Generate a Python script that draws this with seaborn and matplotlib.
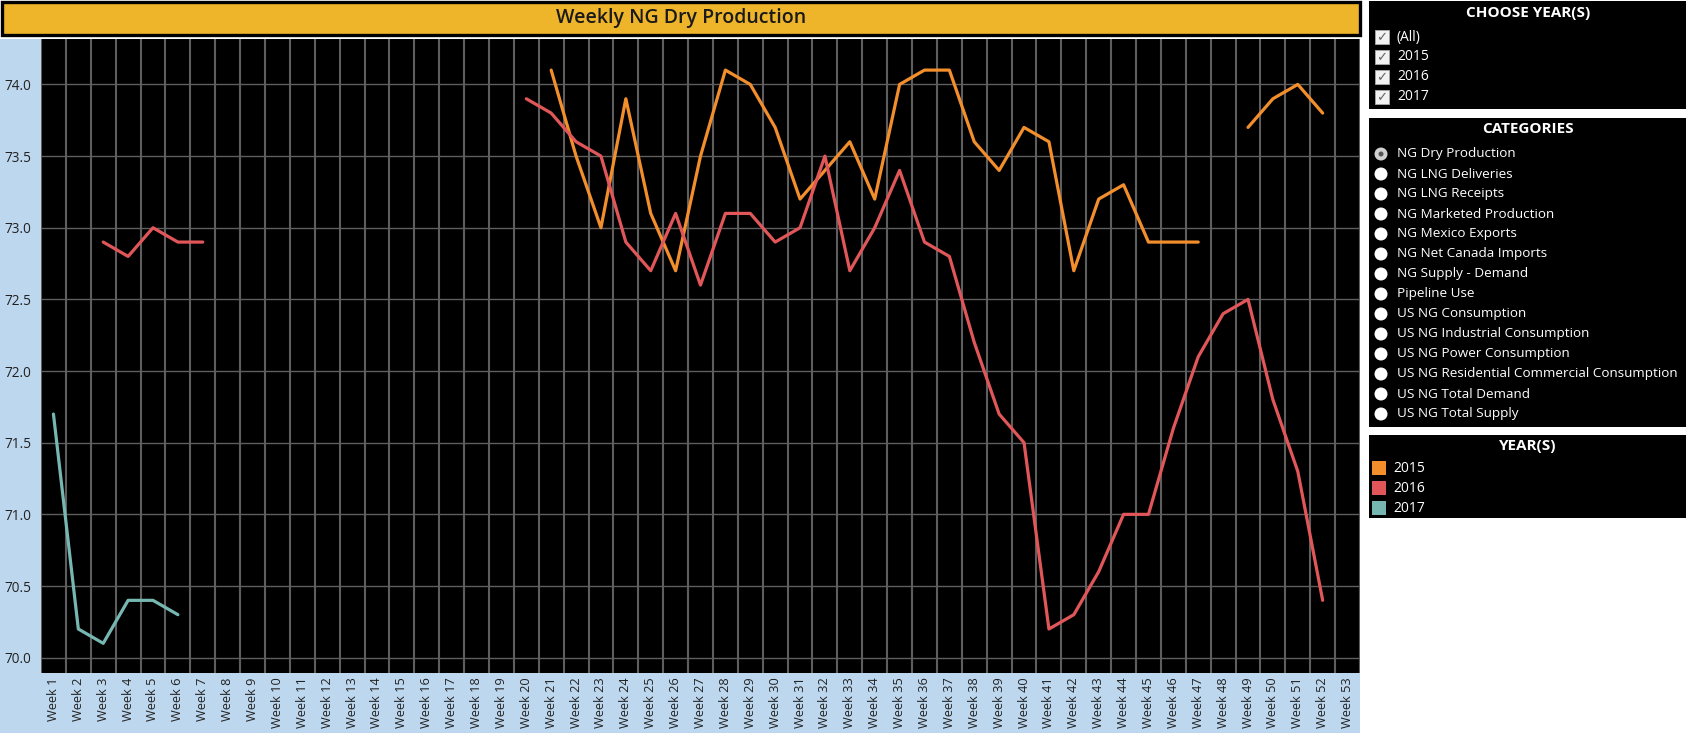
import seaborn as sns
import pandas as pd
import matplotlib.pyplot as plt
from matplotlib.patches import Rectangle, Circle

# data (None = no value that week)
weeks = list(range(1, 54))
week_labels = [f"Week {w}" for w in weeks]
years = ["2015", "2016", "2017"]

prod_2015 = [None] * 20 + [
    74.1, 73.5, 73.0, 73.9, 73.1, 72.7, 73.5, 74.1, 74.0, 73.7,
    73.2, 73.4, 73.6, 73.2, 74.0, 74.1, 74.1, 73.6, 73.4, 73.7,
    73.6, 72.7, 73.2, 73.3, 72.9, 72.9, 72.9, None, 73.7, 73.9,
    74.0, 73.8, None,
]
prod_2016 = [None, None, 72.9, 72.8, 73.0, 72.9, 72.9] + [None] * 12 + [
    73.9, 73.8, 73.6, 73.5, 72.9, 72.7, 73.1, 72.6, 73.1, 73.1,
    72.9, 73.0, 73.5, 72.7, 73.0, 73.4, 72.9, 72.8, 72.2, 71.7,
    71.5, 70.2, 70.3, 70.6, 71.0, 71.0, 71.6, 72.1, 72.4, 72.5,
    71.8, 71.3, 70.4, None,
]
prod_2017 = [71.7, 70.2, 70.1, 70.4, 70.4, 70.3] + [None] * 47

year_choices = ["(All)", "2015", "2016", "2017"]
categories = [
    "NG Dry Production", "NG LNG Deliveries", "NG LNG Receipts",
    "NG Marketed Production", "NG Mexico Exports", "NG Net Canada Imports",
    "NG Supply - Demand", "Pipeline Use", "US NG Consumption",
    "US NG Industrial Consumption", "US NG Power Consumption",
    "US NG Residential Commercial Consumption", "US NG Total Demand",
    "US NG Total Supply",
]

palette = {"2015": "#F28E2B", "2016": "#E15759", "2017": "#76B7B2"}

# long table, with a segment id so gaps stay gaps
rows = []
for year, values in zip(years, [prod_2015, prod_2016, prod_2017]):
    seg = 0
    for w, v in zip(weeks, values):
        if v is None:
            seg += 1
            continue
        rows.append({"week": w, "value": v, "year": year, "segment": f"{year}-{seg}"})
df = pd.DataFrame(rows)

sns.set_theme(style="dark")
plt.rcParams["font.family"] = ["Open Sans", "DejaVu Sans"]

W, H = 1689, 736
fig = plt.figure(figsize=(W / 100, H / 100), dpi=100, facecolor="white")

# background canvas in pixel coordinates
canvas = fig.add_axes([0, 0, 1, 1], zorder=0)
canvas.set_xlim(0, W)
canvas.set_ylim(H, 0)
canvas.axis("off")

canvas.add_patch(Rectangle((0, 39), 1360, 694, facecolor="#BDD7EE", edgecolor="none"))
canvas.add_patch(Rectangle((2, 2), 1358, 33, facecolor="#EEB42A", edgecolor="black", linewidth=2.4))
canvas.text(681, 18.5, "Weekly NG Dry Production", ha="center", va="center",
            fontsize=14, fontweight="semibold", color="#1a1a1a")

# sidebar panels
for y0, y1 in [(1, 109), (118, 427), (435, 518)]:
    canvas.add_patch(Rectangle((1369, y0), 317, y1 - y0, facecolor="black", edgecolor="none"))

canvas.text(1528, 13, "CHOOSE YEAR(S)", ha="center", va="center", color="white",
            fontsize=11, fontweight="bold")
for i, label in enumerate(year_choices):
    yc = 37 + 20 * i
    canvas.add_patch(Rectangle((1375, yc - 7), 14, 14, facecolor="#f2f2f2", edgecolor="#aaaaaa", linewidth=0.6))
    canvas.text(1382, yc + 0.5, "\u2713", ha="center", va="center", color="#666666",
                fontsize=9.5, family="DejaVu Sans")
    canvas.text(1397, yc, label, ha="left", va="center", color="white", fontsize=10)

canvas.text(1528, 129, "CATEGORIES", ha="center", va="center", color="white",
            fontsize=11, fontweight="bold")
for i, label in enumerate(categories):
    yc = 154 + 20 * i
    if i == 0:
        canvas.add_patch(Circle((1381, yc), 6.5, facecolor="#d0d0d0", edgecolor="none"))
        canvas.add_patch(Circle((1381, yc), 2.5, facecolor="#555555", edgecolor="none"))
    else:
        canvas.add_patch(Circle((1381, yc), 6.5, facecolor="white", edgecolor="none"))
    canvas.text(1397, yc, label, ha="left", va="center", color="white", fontsize=9.7)

canvas.text(1528, 446, "YEAR(S)", ha="center", va="center", color="white",
            fontsize=11, fontweight="bold")
for i, year in enumerate(years):
    yc = 468 + 20 * i
    canvas.add_patch(Rectangle((1372, yc - 7), 14, 14, facecolor=palette[year], edgecolor="none"))
    canvas.text(1393, yc, year, ha="left", va="center", color="white", fontsize=10)

canvas.text(178, 93, "Source:US EIA-Natural Gas Weekly Update", ha="left", va="center",
            color="#8a8a8a", fontsize=9.5)

# main chart
ax = fig.add_axes([41 / W, 1 - 673 / H, (1360 - 41) / W, (673 - 39) / H], zorder=1)
ax.set_facecolor("black")

sns.lineplot(data=df, x="week", y="value", hue="year", units="segment",
             estimator=None, palette=palette, linewidth=2.3, legend=False, ax=ax)

ax.set_xlim(0.5, 53.5)
ax.set_ylim(69.893, 74.317)
ax.set_xticks(weeks)
ax.set_xticklabels(week_labels, rotation=90, fontsize=9.2, color="#222222")
ax.set_xticks([w + 0.5 for w in range(0, 54)], minor=True)
ax.set_yticks([70.0, 70.5, 71.0, 71.5, 72.0, 72.5, 73.0, 73.5, 74.0])
ax.set_yticklabels([f"{v:.1f}" for v in ax.get_yticks()], fontsize=9.8, color="#222222")

ax.grid(False)
ax.grid(which="minor", axis="x", color="#5e5e5e", linewidth=1.5)
ax.grid(which="major", axis="y", color="#5e5e5e", linewidth=1.0)
ax.tick_params(axis="x", which="major", length=0, pad=3)
ax.tick_params(axis="x", which="minor", length=3, color="white", width=1)
ax.tick_params(axis="y", which="major", length=5, color="#999999", width=1, pad=2)
for s in ax.spines.values():
    s.set_visible(False)
ax.set_xlabel("")
ax.set_ylabel("")

fig.savefig("out.png", dpi=100, facecolor="white")
